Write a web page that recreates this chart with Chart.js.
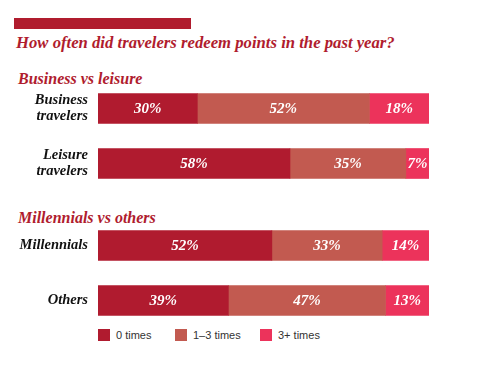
<!DOCTYPE html>
<html>
<head>
<meta charset="utf-8">
<script src="https://cdn.jsdelivr.net/npm/chart.js@4"></script>
<style>
  html, body { margin: 0; padding: 0; background: #fff; }
  body { width: 478px; height: 381px; position: relative; overflow: hidden; }
  .topbar { position: absolute; left: 14px; top: 18px; width: 177px; height: 11px; background: #b01c2e; }
  .title, .heading {
    position: absolute; margin: 0; white-space: nowrap;
    font-family: "Liberation Serif", serif; font-style: italic; font-weight: bold; color: #b01c2e;
  }
  .title { left: 16px; top: 33px; font-size: 16.7px; line-height: 20px; }
  .heading { left: 18px; font-size: 16px; line-height: 18px; }
  .chart { position: absolute; left: 0; width: 478px; height: 110px; }
  .legend { position: absolute; top: 328px; font-family: "Liberation Sans", Arial, sans-serif; font-size: 11px; color: #333; line-height: 14px; }
  .legend .sw { position: absolute; left: 0; top: 1px; width: 12px; height: 12px; }
  .legend .txt { position: absolute; left: 18px; top: 0; white-space: nowrap; }
</style>
</head>
<body>
<div class="topbar"></div>
<div class="title">How often did travelers redeem points in the past year?</div>
<div class="heading" style="top:70px">Business vs leisure</div>
<div class="heading" style="top:209px">Millennials vs others</div>
<div class="chart" style="top:81px"><canvas id="chartA"></canvas></div>
<div class="chart" style="top:218px"><canvas id="chartB"></canvas></div>
<div id="legend"></div>

<script>
// data
const seriesNames = ["0 times", "1–3 times", "3+ times"];
const colors = ["#b01b2f", "#c25a50", "#ec335b"];

const groupALabels = [["Business", "travelers"], ["Leisure", "travelers"]];
const groupAZero = [30, 58];
const groupAOneToThree = [52, 35];
const groupAThreePlus = [18, 7];

const groupBLabels = ["Millennials", "Others"];
const groupBZero = [52, 39];
const groupBOneToThree = [33, 47];
const groupBThreePlus = [14, 13];

const legendLeft = [98, 175, 260];

const serifBoldItalic = { family: "'Liberation Serif', serif", style: "italic", weight: "bold", size: 14.5, lineHeight: 1.1 };

// white % labels in the middle of each segment
const valueLabels = {
  id: "valueLabels",
  afterDatasetsDraw(chart) {
    const ctx = chart.ctx;
    ctx.save();
    ctx.fillStyle = "#fff";
    ctx.font = "italic bold 15px 'Liberation Serif', serif";
    ctx.textAlign = "center";
    ctx.textBaseline = "middle";
    chart.data.datasets.forEach((ds, i) => {
      chart.getDatasetMeta(i).data.forEach((bar, j) => {
        const x = (bar.x + bar.base) / 2;
        ctx.fillText(ds.data[j] + "%", x, bar.y + 1);
      });
    });
    ctx.restore();
  },
};

function renderGroup(id, labels, zero, mid, plus) {
  const total = zero[0] + mid[0] + plus[0];
  const series = [zero, mid, plus];
  return new Chart(document.getElementById(id), {
    type: "bar",
    data: {
      labels: labels,
      datasets: series.map((d, i) => ({
        label: seriesNames[i],
        data: d,
        backgroundColor: colors[i],
        barThickness: 30,
        borderWidth: 0,
      })),
    },
    options: {
      indexAxis: "y",
      responsive: true,
      maintainAspectRatio: false,
      animation: false,
      layout: { padding: { left: 0, right: 49, top: 0, bottom: 0 } },
      plugins: { legend: { display: false }, tooltip: { enabled: false } },
      scales: {
        x: { display: false, stacked: true, min: 0, max: total },
        y: {
          stacked: true,
          border: { display: false },
          grid: { display: false, drawTicks: false },
          afterFit: (scale) => {
            scale.width = 98;
            scale.paddingTop = 0;
            scale.paddingBottom = 0;
          },
          ticks: { color: "#111", padding: 10, font: serifBoldItalic },
        },
      },
    },
    plugins: [valueLabels],
  });
}

renderGroup("chartA", groupALabels, groupAZero, groupAOneToThree, groupAThreePlus);
renderGroup("chartB", groupBLabels, groupBZero, groupBOneToThree, groupBThreePlus);

document.getElementById("legend").innerHTML = seriesNames
  .map((n, i) => `<div class="legend" style="left:${legendLeft[i]}px"><div class="sw" style="background:${colors[i]}"></div><div class="txt">${n}</div></div>`)
  .join("");
</script>
</body>
</html>
